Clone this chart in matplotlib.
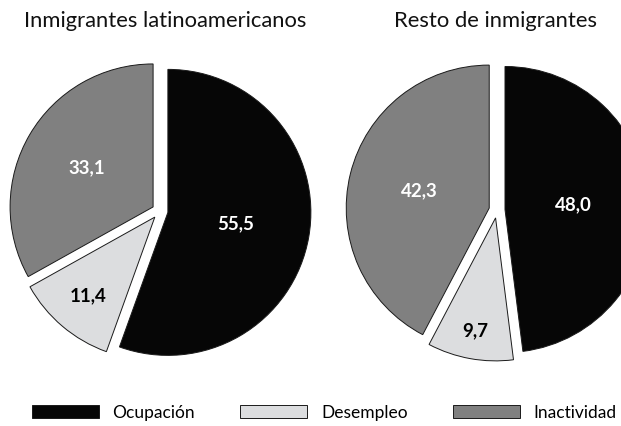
import matplotlib
matplotlib.use("Agg")
import matplotlib.pyplot as plt
import numpy as np

plt.rcParams['font.family'] = ['Lato', 'DejaVu Sans']

categories = ["Ocupación", "Desempleo", "Inactividad"]
titles = ["Inmigrantes latinoamericanos", "Resto de inmigrantes"]
latinos = [55.5, 11.4, 33.1]
resto = [48.0, 9.7, 42.3]
labels_latinos = ["55,5", "11,4", "33,1"]
labels_resto = ["48,0", "9,7", "42,3"]

colors = ["#060606", "#dcdddf", "#808080"]
text_colors = ["white", "black", "white"]

W, H = 621, 426
R = 143.0
fig = plt.figure(figsize=(W / 100, H / 100), dpi=100)
ax = fig.add_axes([0, 0, 1, 1])

centers = [(160 / R, (H - 211) / R), (497 / R, (H - 210) / R)]
title_x = [165 / R, 496 / R]
label_dist = [[0.48, 0.72, 0.54], [0.48, 0.80, 0.50]]
explode = 0.056

all_wedges = []
for i, (vals, labs) in enumerate([(latinos, labels_latinos), (resto, labels_resto)]):
    cx, cy = centers[i]
    wedges, _ = ax.pie(vals, colors=colors, startangle=90, counterclock=False,
                       explode=[explode] * 3, center=(cx, cy), radius=1.0,
                       wedgeprops=dict(edgecolor="#1a1a1a", linewidth=0.7),
                       normalize=True, frame=True)
    all_wedges.append(wedges)
    for j, w in enumerate(wedges):
        ang = np.deg2rad((w.theta1 + w.theta2) / 2)
        wcx, wcy = w.center
        d = label_dist[i][j]
        ax.text(wcx + d * np.cos(ang), wcy + d * np.sin(ang), labs[j],
                ha='center', va='center', fontsize=13.5, fontweight='bold',
                color=text_colors[j])
    ax.text(title_x[i], (H - 21) / R, titles[i], ha='center', va='center',
            fontsize=15.8, color='#111111')

ax.set_xlim(0, W / R)
ax.set_ylim(0, H / R)
ax.set_aspect('equal')
ax.axis('off')

leg = fig.legend(all_wedges[0], categories, loc='center', bbox_to_anchor=(0.522, 0.031),
                 ncol=3, frameon=False, fontsize=12.5, handlelength=3.85, handleheight=0.75,
                 handletextpad=0.8, columnspacing=2.6, borderaxespad=0, borderpad=0)

fig.savefig("out.png", dpi=100)
